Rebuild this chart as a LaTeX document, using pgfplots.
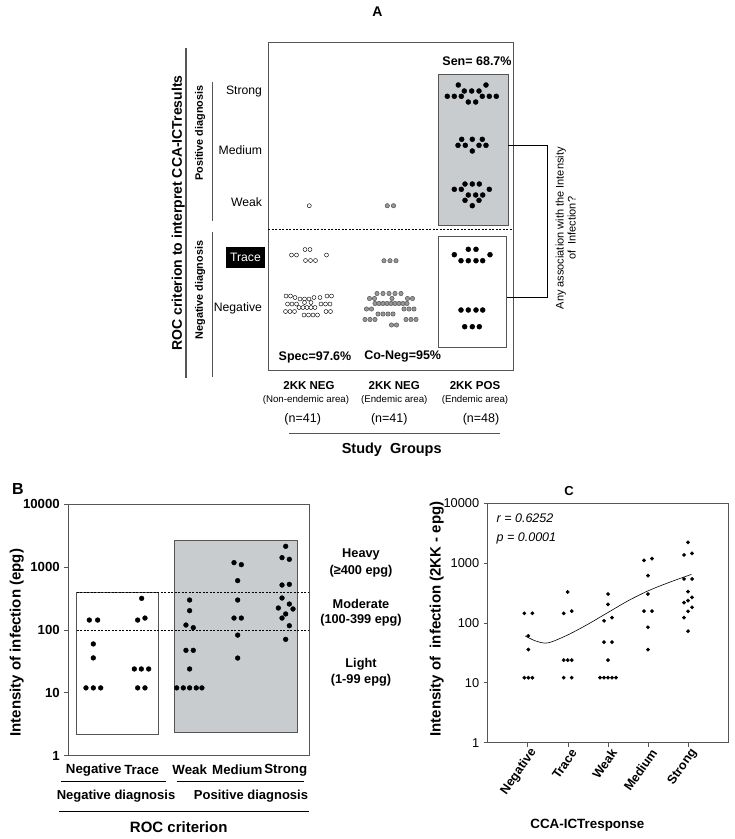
\documentclass[border=0pt]{standalone}
\usepackage{pgfplots}
\pgfplotsset{compat=1.18}
\usepackage{fontspec}
\setmainfont{Liberation Sans}
\newcommand\fs[1]{\fontsize{#1}{#1}\selectfont}
\definecolor{boxgray}{RGB}{201,204,207}
\definecolor{axgray}{RGB}{85,85,85}
\definecolor{dotgray}{RGB}{150,150,150}
\begin{document}
\begin{tikzpicture}
\useasboundingbox (0pt,0pt) rectangle (735pt,-839pt);
%================ PANEL A =================
\begin{axis}[at={(268pt,-370pt)}, anchor=south west, width=245pt, height=328pt, scale only axis,
  xmin=268, xmax=513, ymin=42, ymax=370, y dir=reverse, xtick=\empty, ytick=\empty,
  axis line style={draw=axgray, line width=0.8pt}, clip=false]
\addplot[draw=axgray, fill=boxgray, line width=0.8pt] coordinates {(438.3,74.3) (508.3,74.3) (508.3,225.7) (438.3,225.7)} -- cycle;
\addplot[draw=axgray, fill=white, line width=0.8pt] coordinates {(438.3,236) (506.7,236) (506.7,347.3) (438.3,347.3)} -- cycle;
\addplot[black, line width=0.6pt, dash pattern=on 2pt off 1.5pt] coordinates {(268,229.3) (513,229.3)};
% group 1: 2KK NEG non-endemic (open)
\addplot[only marks, mark=*, mark size=2pt, mark options={draw=black, fill=white, line width=0.45pt}] coordinates {
(309.3,205.7)
(291.5,255) (296.5,255) (305,249.5) (310,249.5) (305.5,260.5) (310.5,260.5) (315.5,260.5) (326.5,255)
(286,296) (290.5,296) (295,297.5) (300,299) (304.5,299) (309,299) (314,297.5) (320,297.5) (327,296) (331.5,296)
(287.5,304) (292,304) (296.5,304) (304.5,302.5) (311,302.5) (321,304) (325.5,304) (330,304)
(299,307.5) (303,307.5) (307,307.5) (311,307.5) (315,307.5)
(285.5,311.5) (290,311.5) (294.5,311.5) (326,311.5) (330.5,311.5)
(304,315) (308.5,315) (313,315) (317.5,315)};
% group 2: 2KK NEG endemic (grey)
\addplot[only marks, mark=*, mark size=2.2pt, mark options={draw=black!70, fill=dotgray, line width=0.45pt}] coordinates {
(387.3,205.7) (393.5,205.7)
(384,260.7) (390,260.7) (396,260.7)
(377,293.5) (383,293.5) (389,293.5) (395,293.5) (401,293.5)
(369.5,298.5) (374.5,298.5) (392,298.5) (407.5,298.5) (412.5,298.5)
(375,303.5) (379,303.5) (383,303.5) (387,303.5) (391,303.5) (395,303.5) (399,303.5) (403,303.5) (407,303.5)
(366.5,309) (371.5,309) (404,309) (409,309) (414,309)
(378,314) (383,314) (388,314) (393,314)
(365,319.5) (370,319.5) (375,319.5) (406,319.5) (411,319.5) (416,319.5)
(391.5,325) (396.5,325)};
% group 3: 2KK POS (black)
\addplot[only marks, mark=*, mark size=2.5pt, black] coordinates {
(458.3,85) (486,85) (464.3,91) (471.7,91) (479,91) (447.3,96.3) (454.3,96.3) (461.3,96.3) (482.3,96.3) (489.3,96.3) (496.3,96.3) (468.3,102) (475.7,102)
(461.7,139.3) (472.3,139.3) (482.3,139.3) (458,145.3) (465.3,145.3) (479,145.3) (486,145.3) (472.3,151)
(465,184) (472.3,184) (479.3,184) (454.3,189.3) (461.3,189.3) (489.3,189.3) (468.3,195) (475.7,195) (482.7,195) (465,200.3) (479,200.3) (472.3,205.7)
(454.3,254.7) (468.3,249.3) (476,249.3) (490,254.7) (461,260.7) (468.3,260.7) (476,260.7) (482.7,260.7)
(461,310) (468.3,310) (476,310) (482.7,310) (464.7,326.7) (472.3,326.7) (479.3,326.7)};
\end{axis}
%================ PANEL B =================
\begin{axis}[at={(68.3pt,-755.7pt)}, anchor=south west, width=241pt, height=251.4pt, scale only axis,
  xmin=0.5, xmax=5.5, ymode=log, ymin=1, ymax=10000, xtick=\empty,
  ytick={1,10,100,1000,10000}, yticklabels={1,10,100,1000,10000}, yminorticks=false,
  tick align=outside, ytick pos=left, major tick length=4pt,
  tick style={draw=axgray, line width=0.8pt},
  axis line style={draw=axgray, line width=0.9pt},
  yticklabel style={font=\bfseries\fs{13.2}, xshift=-1pt},
  /pgf/number format/assume math mode=true, clip=false]
\addplot[draw=axgray, fill=white, line width=0.8pt] coordinates {(0.674,2.2) (2.36,2.2) (2.36,400) (0.674,400)} -- cycle;
\addplot[draw=axgray, fill=boxgray, line width=0.8pt] coordinates {(2.70,2.35) (5.26,2.35) (5.26,2706) (2.70,2706)} -- cycle;
\addplot[black, line width=0.6pt, dash pattern=on 2pt off 1.5pt] coordinates {(0.674,400) (5.5,400)};
\addplot[black, line width=0.6pt, dash pattern=on 2pt off 1.5pt] coordinates {(0.674,100) (5.5,100)};
\addplot[only marks, mark=*, mark size=2.4pt, black] coordinates {
(0.936,144) (1.109,144) (1.019,60) (1.019,36) (0.867,12) (1.019,12) (1.172,12)
(2.022,319) (1.939,144) (2.091,155) (1.870,24) (2.015,24) (2.167,24) (1.939,12) (2.091,12)
(3.017,300) (3.017,203) (2.941,120) (3.093,109) (2.941,47.5) (3.093,47.5) (3.017,24) (2.748,12) (2.886,12) (3.017,12) (3.155,12) (3.272,12)
(3.938,1180) (4.090,1096) (4.014,610) (4.014,300) (3.938,155) (4.090,155) (4.014,83) (4.014,35.8)
(5.010,2146) (4.934,1417) (5.086,1333) (4.934,520) (5.086,533) (4.934,323) (4.858,224) (5.086,259) (5.162,216) (5.010,180) (4.934,155) (5.086,117) (5.010,71)};
\end{axis}
%================ PANEL C =================
\begin{axis}[at={(487.7pt,-742.7pt)}, anchor=south west, width=240.6pt, height=239.4pt, scale only axis,
  xmin=0, xmax=6, ymode=log, ymin=1, ymax=10000,
  xtick={1,2,3,4,5}, xticklabels={Negative,Trace,Weak,Medium,Strong},
  ytick={1,10,100,1000,10000}, yticklabels={1,10,100,1000,10000}, yminorticks=false,
  tick align=outside, xtick pos=bottom, ytick pos=left, major tick length=4pt,
  tick style={draw=axgray, line width=0.8pt},
  axis line style={draw=axgray, line width=0.9pt},
  yticklabel style={font=\fs{12.8}, xshift=-1pt},
  xticklabel style={font=\bfseries\fs{12.6}, rotate=55, anchor=east, xshift=4pt, yshift=-7pt},
  /pgf/number format/assume math mode=true, clip=false]
\addplot[only marks, mark=*, mark size=1.7pt, black] coordinates {
(0.914,145) (1.114,145) (1.014,61) (1.014,36) (0.914,12.2) (1.014,12.2) (1.114,12.2)
(1.995,330) (1.895,145) (2.095,158) (1.895,24) (1.995,24) (2.095,24) (1.895,12.2) (2.095,12.2)
(3.001,305) (3.001,205) (2.901,109) (3.101,123) (2.901,48) (3.101,48) (3.001,24) (2.801,12.2) (2.901,12.2) (3.001,12.2) (3.101,12.2) (3.200,12.2)
(3.898,1115) (4.098,1189) (3.997,618) (3.997,305) (3.898,158) (4.098,158) (3.997,85) (3.997,36)
(4.996,2230) (4.896,1370) (5.096,1460) (4.896,544) (5.096,544) (4.996,334) (4.896,219) (4.996,236) (5.096,268) (5.096,183) (4.996,157) (4.896,123) (4.996,73)};
\addplot[smooth, black, line width=0.6pt] coordinates {
(0.93,61) (1.2,50) (1.5,46.5) (1.97,62) (2.47,93) (3.0,150) (3.5,235) (4.0,345) (4.5,470) (5.08,650)};
\end{axis}
%================ TEXT & LINES =================
\begin{scope}[x=1pt,y=-1pt]
\tikzset{every node/.style={inner sep=0pt, outer sep=0pt}}
% Panel A
\node[font=\bfseries\fs{14}] at (377.5,12) {A};
\node[font=\bfseries\fs{12.5}] at (477,61.5) {Sen= 68.7\%};
\node[font=\bfseries\fs{12.5}] at (315,357.5) {Spec=97.6\%};
\node[font=\bfseries\fs{12.5}] at (402.7,356.7) {Co-Neg=95\%};
\node[font=\fs{12.2}, anchor=east] at (262,92) {Strong};
\node[font=\fs{12.2}, anchor=east] at (262,150) {Medium};
\node[font=\fs{12.2}, anchor=east] at (262,202.5) {Weak};
\node[font=\fs{12.2}, anchor=east, fill=black, text=white, minimum height=21pt, minimum width=39pt] at (265,257) {Trace};
\node[font=\fs{12.2}, anchor=east] at (262,308.5) {Negative};
\node[font=\bfseries\fs{14}, rotate=90] at (178.3,213) {ROC criterion to interpret CCA-ICTresults};
\draw[axgray, line width=1.2pt] (186,48) -- (186,378);
\node[font=\bfseries\fs{10.8}, rotate=90] at (200,133) {Positive diagnosis};
\node[font=\bfseries\fs{10.8}, rotate=90] at (200,290) {Negative diagnosis};
\draw[axgray, line width=0.9pt] (212.3,81.7) -- (212.3,220.7);
\draw[axgray, line width=0.9pt] (212.3,231.7) -- (212.3,376.7);
\node[font=\bfseries\fs{11.5}] at (309,385.5) {2KK NEG};
\node[font=\bfseries\fs{11.5}] at (394.3,385.5) {2KK NEG};
\node[font=\bfseries\fs{11.5}] at (475,386) {2KK POS};
\node[font=\fs{9.7}] at (306,399.5) {(Non-endemic area)};
\node[font=\fs{9.7}] at (394.3,399.5) {(Endemic area)};
\node[font=\fs{9.7}] at (475,400) {(Endemic area)};
\node[font=\fs{12.5}] at (302.7,419) {(n=41)};
\node[font=\fs{12.5}] at (389.3,419) {(n=41)};
\node[font=\fs{12.5}] at (481,419) {(n=48)};
\draw[axgray, line width=1.2pt] (289.3,433.3) -- (500,433.3);
\node[font=\bfseries\fs{14.5}] at (391.7,450) {Study\ \ Groups};
\draw[black, line width=0.8pt] (508.3,145.3) -- (547.3,145.3) -- (547.3,297.3) -- (506.7,297.3);
\node[font=\fs{11}, rotate=90, align=center] at (565.8,228.3) {Any association with the Intensity\\[1pt] of\ \ Infection?};
% Panel B
\node[font=\bfseries\fs{16}] at (18,489) {B};
\node[font=\bfseries\fs{15}, rotate=90] at (16.7,642.7) {Intensity of infection (epg)};
\node[font=\bfseries\fs{13.3}] at (93.7,770) {Negative};
\node[font=\bfseries\fs{13.3}] at (141.7,770) {Trace};
\node[font=\bfseries\fs{13.3}] at (189.7,770) {Weak};
\node[font=\bfseries\fs{13.3}] at (237.3,770) {Medium};
\node[font=\bfseries\fs{13.3}] at (285.7,770) {Strong};
\draw[black, line width=0.8pt] (61,781) -- (165.7,781);
\draw[black, line width=0.8pt] (176.7,781) -- (304,781);
\node[font=\bfseries\fs{13}] at (116,796) {Negative diagnosis};
\node[font=\bfseries\fs{13}] at (251,796) {Positive diagnosis};
\draw[black, line width=0.8pt] (59.3,811.7) -- (309,811.7);
\node[font=\bfseries\fs{15}] at (178.7,827.5) {ROC criterion};
\node[font=\bfseries\fs{12.75}] at (361,554) {Heavy};
\node[font=\bfseries\fs{12.75}] at (361,571) {(≥400 epg)};
\node[font=\bfseries\fs{12.75}] at (361,603.5) {Moderate};
\node[font=\bfseries\fs{12.75}] at (361,620) {(100-399 epg)};
\node[font=\bfseries\fs{12.75}] at (361,664) {Light};
\node[font=\bfseries\fs{12.75}] at (361,680.5) {(1-99 epg)};
% Panel C
\node[font=\bfseries\fs{13}] at (569,491) {C};
\node[font=\bfseries\fs{15}, rotate=90] at (436.7,619) {Intensity of\ \ infection (2KK - epg)};
\node[font=\itshape\fs{12.5}, anchor=west] at (496.7,517.7) {r = 0.6252};
\node[font=\itshape\fs{12.5}, anchor=west] at (496.7,538.3) {p = 0.0001};
\node[font=\bfseries\fs{13.4}] at (587.3,825) {CCA-ICTresponse};
\end{scope}
\end{tikzpicture}
\end{document}
